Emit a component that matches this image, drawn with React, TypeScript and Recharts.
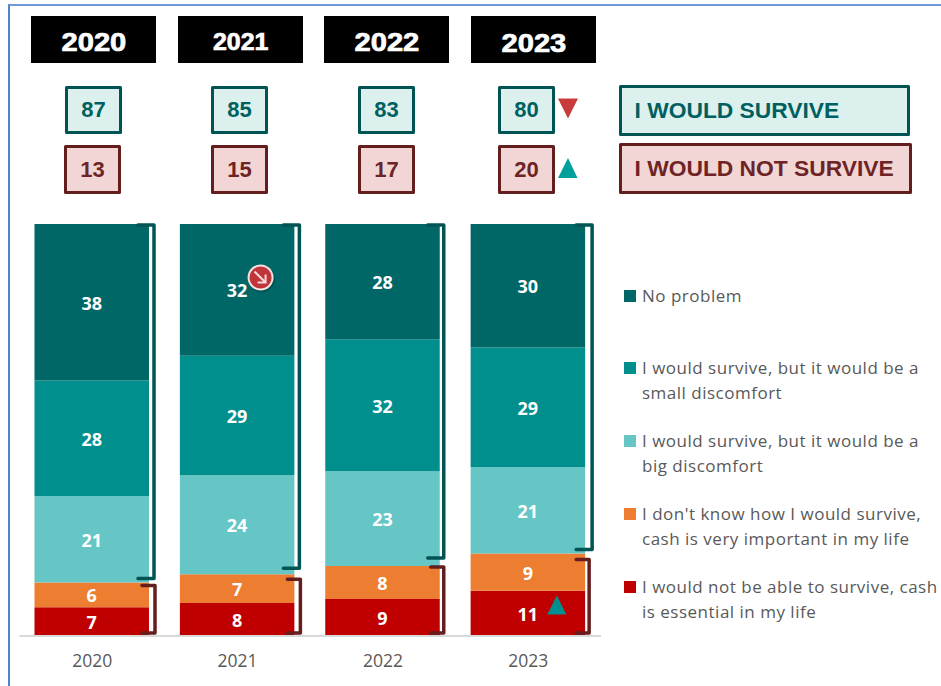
import React from "react";
import { BarChart, Bar, XAxis, YAxis, LabelList, ReferenceDot, Rectangle } from "recharts";

const years = ["2020", "2021", "2022", "2023"];
const noProblem = [38, 32, 28, 30];
const smallDiscomfort = [28, 29, 32, 29];
const bigDiscomfort = [21, 24, 23, 21];
const dontKnow = [6, 7, 8, 9];
const notSurvive = [7, 8, 9, 11];
const wouldSurvive = [87, 85, 83, 80];
const wouldNotSurvive = [13, 15, 17, 20];

const legendItems = [
  ["No problem"],
  ["I would survive, but it would be a", "small discomfort"],
  ["I would survive, but it would be a", "big discomfort"],
  ["I don't know how I would survive,", "cash is very important in my life"],
  ["I would not be able to survive, cash", "is essential in my life"],
];

const C = {
  noProblem: "#006666",
  small: "#008F8C",
  big: "#66C5C5",
  dontKnow: "#ED7D31",
  notSurvive: "#C00000",
  tealLine: "#005454",
  tealText: "#006060",
  tealFill: "#DCF1EE",
  maroonLine: "#651E1E",
  maroonText: "#6E2424",
  maroonFill: "#F2D6D5",
  text: "#595959",
};
const legendColors = [C.noProblem, C.small, C.big, C.dontKnow, C.notSurvive];

const data = years.map((year, i) => ({
  year,
  notSurvive: notSurvive[i],
  dontKnow: dontKnow[i],
  bigDiscomfort: bigDiscomfort[i],
  smallDiscomfort: smallDiscomfort[i],
  noProblem: noProblem[i],
}));

// layout of the overlays round the plot
const yearLefts = [31, 178, 324, 471];
const yearSizes = [
  { fontSize: 26, scale: 1.12, down: 6 },
  { fontSize: 24, scale: 1.04, down: 4 },
  { fontSize: 26, scale: 1.12, down: 6 },
  { fontSize: 26, scale: 1.12, down: 8 },
];
const surviveLefts = [65, 211, 358, 498];
const notSurviveLefts = [64, 211, 358, 498];
const legendTops = [296, 368, 441, 514, 587];
// hand-placed brackets sit a little off the bars
const tealNudge = [
  { x: 3, bottom: -4 },
  { x: 3, bottom: -6 },
  { x: 2, bottom: -8 },
  { x: 5, bottom: -4 },
];
const maroonNudge = [
  { x: 4, top: 3 },
  { x: 4, top: 5 },
  { x: 2, top: 1 },
  { x: 2, top: 6 },
];

function bracket(right: number, top: number, bottom: number, arm: number) {
  return `M${right - arm} ${top} H${right} V${bottom} H${right - arm}`;
}

function TopSegment(props: any) {
  const { x, y, width, height, fill, index } = props;
  const unit = height / noProblem[index];
  const tealBottom = y + (noProblem[index] + smallDiscomfort[index] + bigDiscomfort[index]) * unit;
  const base = y + 100 * unit;
  const right = x + width;
  const tn = tealNudge[index];
  const mn = maroonNudge[index];
  return (
    <g>
      <Rectangle x={x} y={y} width={width} height={height} fill={fill} />
      <path
        d={bracket(right + tn.x + 2, y + 1, tealBottom + tn.bottom, 16)}
        fill="none"
        stroke={C.tealLine}
        strokeWidth={3.5}
        strokeLinejoin="round"
        strokeLinecap="round"
      />
      <path
        d={bracket(right + mn.x + 2, tealBottom + mn.top, base - 3, 13)}
        fill="none"
        stroke={C.maroonLine}
        strokeWidth={3.5}
        strokeLinejoin="round"
        strokeLinecap="round"
      />
    </g>
  );
}

function DownBadge(props: any) {
  const cx = props.cx + 23;
  const cy = props.cy;
  return (
    <g>
      <circle cx={cx + 1} cy={cy + 1.5} r={13.5} fill="#00403f" opacity={0.45} />
      <circle cx={cx} cy={cy} r={13} fill="#F3E3E3" />
      <circle cx={cx} cy={cy} r={11} fill="#C0353A" />
      <path
        d={`M${cx - 6} ${cy - 6} L${cx + 5} ${cy + 5} M${cx + 5} ${cy - 3} V${cy + 5} H${cx - 3}`}
        fill="none"
        stroke="#F6DADA"
        strokeWidth={2}
      />
    </g>
  );
}

function UpMarker(props: any) {
  const cx = props.cx + 28.5;
  const cy = props.cy;
  return <path d={`M${cx} ${cy - 9.5} L${cx + 9.5} ${cy + 9.5} H${cx - 9.5} Z`} fill="#009090" />;
}

function Box({ left, top, width, height, line, color, fill, children, style }: any) {
  return (
    <div
      style={{
        position: "absolute",
        left,
        top,
        width,
        height,
        boxSizing: "border-box",
        border: `3.5px solid ${line}`,
        borderRadius: 1.5,
        background: fill,
        color,
        fontFamily: "'Liberation Sans', Arial, sans-serif",
        fontWeight: 700,
        whiteSpace: "nowrap",
        display: "flex",
        alignItems: "center",
        justifyContent: "center",
        ...style,
      }}
    >
      {children}
    </div>
  );
}

const labelStyle = { fill: "#fff", fontSize: 18, fontWeight: 700, fontFamily: "'Open Sans', sans-serif" };

export default function App() {
  return (
    <div style={{ position: "absolute", left: 0, top: 0, width: 941, height: 686, overflow: "hidden", background: "#fff" }}>
      <div
        style={{
          position: "absolute",
          left: 8,
          top: 4,
          width: 960,
          height: 720,
          boxSizing: "border-box",
          borderTop: "2px solid #6C9BD5",
          borderLeft: "2px solid #5482C8",
        }}
      />

      {years.map((year, i) => (
        <div
          key={year}
          style={{
            position: "absolute",
            left: yearLefts[i],
            top: 16,
            width: 125,
            height: 47,
            boxSizing: "border-box",
            paddingTop: yearSizes[i].down,
            background: "#000",
            color: "#fff",
            fontFamily: "'Liberation Sans', Arial, sans-serif",
            fontWeight: 700,
            fontSize: yearSizes[i].fontSize,
            WebkitTextStroke: "0.7px #fff",
            display: "flex",
            alignItems: "center",
            justifyContent: "center",
          }}
        >
          <span style={{ display: "inline-block", transform: `scaleX(${yearSizes[i].scale})` }}>{year}</span>
        </div>
      ))}

      {years.map((year, i) => (
        <React.Fragment key={year}>
          <Box left={surviveLefts[i]} top={86} width={57} height={48} line={C.tealLine} color={C.tealText} fill={C.tealFill} style={{ fontSize: 22 }}>
            {wouldSurvive[i]}
          </Box>
          <Box left={notSurviveLefts[i]} top={145} width={57} height={49} line={C.maroonLine} color={C.maroonText} fill={C.maroonFill} style={{ fontSize: 22 }}>
            {wouldNotSurvive[i]}
          </Box>
        </React.Fragment>
      ))}

      <svg style={{ position: "absolute", left: 555, top: 95, width: 26, height: 86 }}>
        <path d="M3 3.5 H23 L13 23.5 Z" fill="#C93C3C" />
        <path d="M3 83 H22.5 L13 63 Z" fill="#00A09C" />
      </svg>

      <Box
        left={619}
        top={85}
        width={291}
        height={51}
        line={C.tealLine}
        color={C.tealText}
        fill={C.tealFill}
        style={{ fontSize: 22.8, justifyContent: "flex-start", paddingLeft: 12.5, paddingBottom: 1 }}
      >
        I WOULD SURVIVE
      </Box>
      <Box
        left={619}
        top={143}
        width={293}
        height={51}
        line={C.maroonLine}
        color={C.maroonText}
        fill={C.maroonFill}
        style={{ fontSize: 22.8, justifyContent: "flex-start", paddingLeft: 12.5, paddingBottom: 1 }}
      >
        I WOULD NOT SURVIVE
      </Box>

      <div style={{ position: "absolute", left: 0, top: 0 }}>
        <BarChart
          width={941}
          height={686}
          data={data}
          barSize={114.5}
          margin={{ top: 224, right: 340, bottom: 0, left: 19.5 }}
        >
          <YAxis hide domain={[0, 100]} />
          <XAxis
            dataKey="year"
            height={50}
            tickLine={false}
            axisLine={{ stroke: "#D9D9D9", strokeWidth: 2 }}
            tick={{ fill: C.text, fontSize: 17.5, fontFamily: "'Open Sans', sans-serif" }}
            tickMargin={13}
          />
          <Bar dataKey="notSurvive" stackId="a" fill={C.notSurvive} isAnimationActive={false}>
            <LabelList dataKey="notSurvive" position="center" dy={1} style={labelStyle} />
          </Bar>
          <Bar dataKey="dontKnow" stackId="a" fill={C.dontKnow} isAnimationActive={false}>
            <LabelList dataKey="dontKnow" position="center" dy={1} style={labelStyle} />
          </Bar>
          <Bar dataKey="bigDiscomfort" stackId="a" fill={C.big} isAnimationActive={false}>
            <LabelList dataKey="bigDiscomfort" position="center" dy={1} style={labelStyle} />
          </Bar>
          <Bar dataKey="smallDiscomfort" stackId="a" fill={C.small} isAnimationActive={false}>
            <LabelList dataKey="smallDiscomfort" position="center" dy={1} style={labelStyle} />
          </Bar>
          <Bar dataKey="noProblem" stackId="a" fill={C.noProblem} isAnimationActive={false} shape={<TopSegment />}>
            <LabelList dataKey="noProblem" position="center" dy={1} style={labelStyle} />
          </Bar>
          <ReferenceDot x="2021" y={87} shape={<DownBadge />} />
          <ReferenceDot x="2023" y={7.5} shape={<UpMarker />} />
        </BarChart>
      </div>

      {legendItems.map((lines, i) => (
        <React.Fragment key={i}>
          <div
            style={{
              position: "absolute",
              left: 624,
              top: legendTops[i] - 6,
              width: 12,
              height: 12,
              background: legendColors[i],
            }}
          />
          <div
            style={{
              position: "absolute",
              left: 642,
              top: legendTops[i] - 13,
              fontFamily: "'Open Sans', sans-serif",
              fontSize: 17,
              lineHeight: "25px",
              letterSpacing: 0.5,
              color: C.text,
              whiteSpace: "nowrap",
            }}
          >
            {lines.map((line) => (
              <div key={line}>{line}</div>
            ))}
          </div>
        </React.Fragment>
      ))}
    </div>
  );
}
